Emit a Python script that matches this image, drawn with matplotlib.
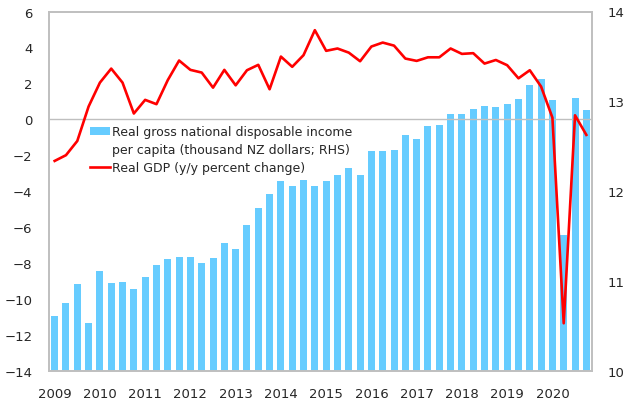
import matplotlib
matplotlib.use("Agg")
import matplotlib.pyplot as plt
from matplotlib.patches import Patch
from matplotlib.lines import Line2D
import numpy as np

years = ["2009", "2010", "2011", "2012", "2013", "2014", "2015", "2016",
         "2017", "2018", "2019", "2020"]

# Quarterly, 2009Q1 .. 2020Q4
rgndi = [10.61, 10.75, 10.97, 10.53, 11.11, 10.98, 10.99, 10.91,
         11.04, 11.18, 11.24, 11.27, 11.27, 11.20, 11.26, 11.42,
         11.36, 11.62, 11.81, 11.97, 12.11, 12.06, 12.12, 12.06,
         12.11, 12.18, 12.26, 12.18, 12.45, 12.45, 12.46, 12.62,
         12.58, 12.73, 12.74, 12.86, 12.86, 12.91, 12.95, 12.94,
         12.97, 13.03, 13.18, 13.25, 13.01, 11.51, 13.04, 12.90]

gdp = [-2.32, -2.0, -1.21, 0.71, 2.04, 2.82, 2.04, 0.32,
       1.08, 0.84, 2.18, 3.27, 2.75, 2.6, 1.76, 2.75,
       1.89, 2.73, 3.03, 1.67, 3.49, 2.92, 3.57, 4.96,
       3.81, 3.94, 3.71, 3.23, 4.05, 4.27, 4.10, 3.38,
       3.25, 3.45, 3.45, 3.94, 3.64, 3.68, 3.10, 3.30,
       3.01, 2.28, 2.73, 1.82, 0.09, -11.36, 0.22, -0.87]

bar_label_1 = "Real gross national disposable income"
bar_label_2 = "per capita (thousand NZ dollars; RHS)"
line_label = "Real GDP (y/y percent change)"

plt.rcParams['font.family'] = ['DejaVu Sans']
fig = plt.figure(figsize=(6.24, 4.06), dpi=100)
ax = fig.add_axes([49/624, 1 - 371.7/406, (592-49)/624, (371.7-12.5)/406])
ax2 = ax.twinx()

x = np.arange(len(rgndi))
ax2.bar(x, [v - 10 for v in rgndi], bottom=10, width=0.62, color="#66CCFF",
        edgecolor="none", zorder=2)
ax.axhline(0, color="#BFBFBF", lw=1.0, zorder=1)
ax.plot(x, gdp, color="#FF0000", lw=1.9, zorder=3)

ax.set_zorder(ax2.get_zorder() + 1)
ax.patch.set_visible(False)

ax.set_xlim(-0.5, len(rgndi) - 0.5)
ax.set_ylim(-14, 6)
ax2.set_ylim(10, 14)
ax.set_yticks(np.arange(-14, 7, 2))
ax2.set_yticks(np.arange(10, 15, 1))
ax.set_xticks(np.arange(0, len(rgndi), 4))
ax.set_xticklabels(years)

tc = "#262626"
ax.tick_params(axis="y", length=0, pad=12, labelsize=9.5, labelcolor=tc)
ax2.tick_params(axis="y", length=0, pad=11, labelsize=9.5, labelcolor=tc)
ax.tick_params(axis="x", length=0, pad=11.5, labelsize=9.5, labelcolor=tc)

for a in (ax, ax2):
    for s in a.spines.values():
        s.set_color("#BFBFBF")
        s.set_linewidth(1.2)

handles = [Patch(facecolor="#66CCFF", edgecolor="none"),
           Line2D([], [], color="none"),
           Line2D([], [], color="#FF0000", lw=1.9)]
labels = [bar_label_1, bar_label_2, line_label]
leg = ax.legend(handles, labels, loc="upper left",
                bbox_to_anchor=((90 - 49) / 543, 1 - (126 - 12.5) / 359.2),
                frameon=False, fontsize=9, handlelength=1.6, handleheight=0.6,
                handletextpad=0.15, labelspacing=0.42, borderpad=0,
                borderaxespad=0)
for t in leg.get_texts():
    t.set_color(tc)

fig.savefig("out.png", dpi=100)
